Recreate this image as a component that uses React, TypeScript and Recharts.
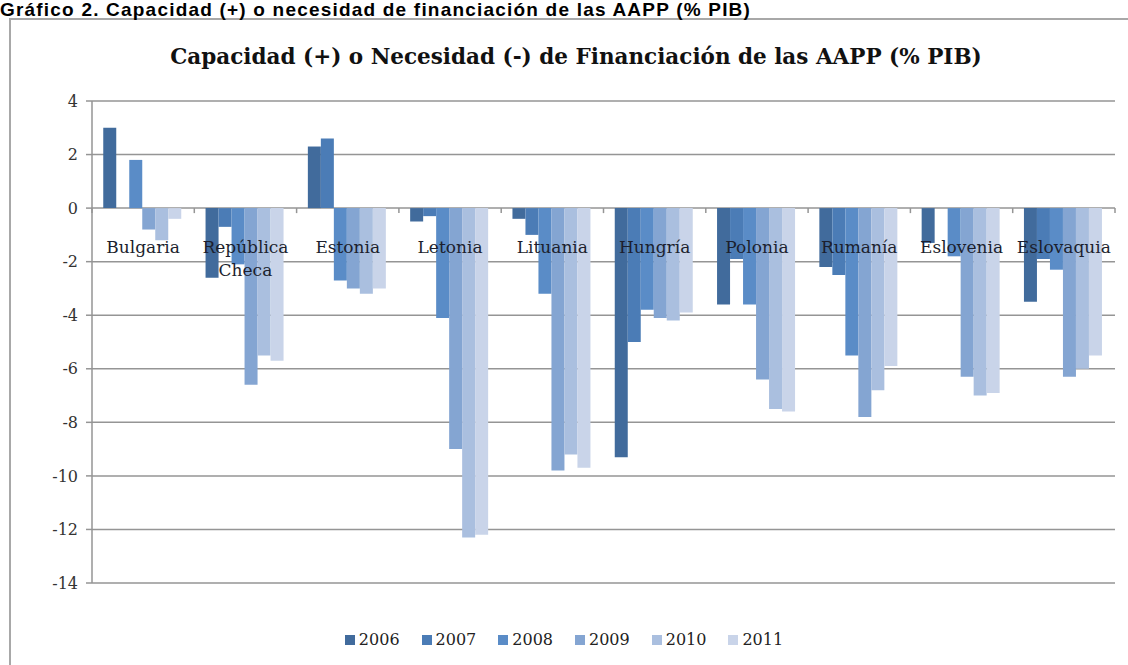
import { Bar, BarChart, CartesianGrid, Legend, XAxis, YAxis } from "recharts";

const paises = [
  "Bulgaria",
  "República Checa",
  "Estonia",
  "Letonia",
  "Lituania",
  "Hungría",
  "Polonia",
  "Rumanía",
  "Eslovenia",
  "Eslovaquia",
];

const anios = ["2006", "2007", "2008", "2009", "2010", "2011"];

const v2006 = [3.0, -2.6, 2.3, -0.5, -0.4, -9.3, -3.6, -2.2, -1.3, -3.5];
const v2007 = [0.0, -0.7, 2.6, -0.3, -1.0, -5.0, -1.9, -2.5, 0.0, -1.9];
const v2008 = [1.8, -2.1, -2.7, -4.1, -3.2, -3.8, -3.6, -5.5, -1.8, -2.3];
const v2009 = [-0.8, -6.6, -3.0, -9.0, -9.8, -4.1, -6.4, -7.8, -6.3, -6.3];
const v2010 = [-1.2, -5.5, -3.2, -12.3, -9.2, -4.2, -7.5, -6.8, -7.0, -6.0];
const v2011 = [-0.4, -5.7, -3.0, -12.2, -9.7, -3.9, -7.6, -5.9, -6.9, -5.5];

const yTicks = [4, 2, 0, -2, -4, -6, -8, -10, -12, -14];

const colores = ["#416b9c", "#4b7cb6", "#5a8cc7", "#84a5d2", "#aabfdf", "#c9d4e9"];

const series = [v2006, v2007, v2008, v2009, v2010, v2011];

const data = paises.map((name, i) => {
  const row: Record<string, string | number> = { name };
  anios.forEach((a, k) => {
    row[a] = series[k][i];
  });
  return row;
});

const W = 1128;
const H = 665;
const PLOT_LEFT = 92;
const PLOT_RIGHT = 1115;
const PLOT_TOP = 101;
const PLOT_BOTTOM = 583;
const X_AXIS_H = 20;
const Y_MAX = 4;
const Y_MIN = -14;
const ZERO_Y = PLOT_TOP + ((PLOT_BOTTOM - PLOT_TOP) * Y_MAX) / (Y_MAX - Y_MIN);
const BAND = (PLOT_RIGHT - PLOT_LEFT) / paises.length;
const GRID = "#959595";
const SERIF = "'DejaVu Serif', serif";

const CategoryTick = (props: any) => {
  const { x, payload, index } = props;
  const words = String(payload.value).split(" ");
  const last = index === paises.length - 1;
  return (
    <g>
      <line x1={x - BAND / 2} x2={x - BAND / 2} y1={ZERO_Y} y2={ZERO_Y + 5} stroke={GRID} strokeWidth={1.5} />
      {last && (
        <line x1={x + BAND / 2} x2={x + BAND / 2} y1={ZERO_Y} y2={ZERO_Y + 5} stroke={GRID} strokeWidth={1.5} />
      )}
      <text x={x} y={ZERO_Y + 45} textAnchor="middle" fill="#1c1f2e" fontSize={17} fontFamily={SERIF}>
        {words.map((w, i) => (
          <tspan key={w} x={x} dy={i === 0 ? 0 : 23}>
            {w}
          </tspan>
        ))}
      </text>
    </g>
  );
};

const LegendContent = () => (
  <div
    style={{
      display: "flex",
      justifyContent: "center",
      gap: 22,
      fontFamily: SERIF,
      fontSize: 16,
      color: "#222",
    }}
  >
    {anios.map((a, k) => (
      <span key={a} style={{ display: "flex", alignItems: "center", gap: 4 }}>
        <span style={{ width: 10, height: 10, background: colores[k], display: "inline-block" }} />
        {a}
      </span>
    ))}
  </div>
);

export default function App() {
  return (
    <div style={{ position: "absolute", left: 0, top: 0, width: W, height: H, overflow: "hidden", background: "#fff" }}>
      <div
        style={{
          position: "absolute",
          left: 9,
          top: 18,
          width: W + 20,
          height: H + 20,
          border: "2px solid #a8a8a8",
        }}
      />
      <div
        style={{
          position: "absolute",
          left: 0,
          top: 0,
          lineHeight: "20px",
          fontFamily: "'Liberation Sans', Arial, sans-serif",
          fontWeight: "bold",
          fontSize: 19,
          letterSpacing: 1.2,
          color: "#000",
          whiteSpace: "nowrap",
        }}
      >
        Gráfico 2. Capacidad (+) o necesidad de financiación de las AAPP (% PIB)
      </div>
      <div
        style={{
          position: "absolute",
          left: 12,
          top: 44,
          width: W,
          textAlign: "center",
          fontFamily: SERIF,
          fontWeight: "bold",
          fontSize: 21.5,
          color: "#111",
        }}
      >
        Capacidad (+) o Necesidad (-) de Financiación de las AAPP (% PIB)
      </div>
      <div style={{ position: "absolute", left: 0, top: 0 }}>
        <BarChart
          width={W}
          height={H}
          data={data}
          margin={{ top: PLOT_TOP, right: W - PLOT_RIGHT, bottom: H - PLOT_BOTTOM - X_AXIS_H, left: 0 }}
          barCategoryGap="11%"
          barGap={0}
        >
          <CartesianGrid vertical={false} stroke={GRID} strokeWidth={1.5} />
          <XAxis
            dataKey="name"
            height={X_AXIS_H}
            axisLine={false}
            tickLine={false}
            interval={0}
            tick={CategoryTick}
          />
          <YAxis
            width={PLOT_LEFT}
            domain={[Y_MIN, Y_MAX]}
            ticks={yTicks}
            interval={0}
            axisLine={{ stroke: GRID, strokeWidth: 1.5 }}
            tickLine={{ stroke: GRID, strokeWidth: 1.5 }}
            tickSize={6}
            tickMargin={8}
            tick={{ fill: "#333", fontSize: 16, fontFamily: SERIF }}
          />
          {anios.map((a, k) => (
            <Bar key={a} dataKey={a} fill={colores[k]} isAnimationActive={false} />
          ))}
          <Legend
            verticalAlign="middle"
            align="center"
            wrapperStyle={{ top: 630, left: 0, width: W }}
            content={<LegendContent />}
          />
        </BarChart>
      </div>
    </div>
  );
}
